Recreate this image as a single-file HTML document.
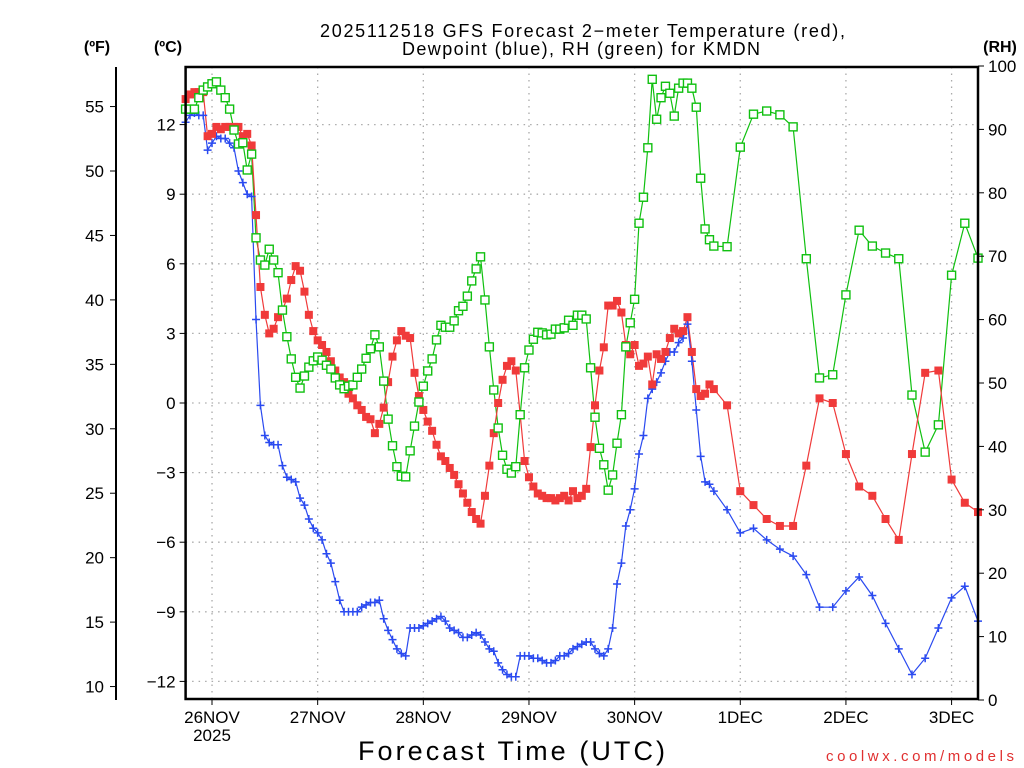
<!DOCTYPE html>
<html><head><meta charset="utf-8"><style>
html,body{margin:0;padding:0;background:#fff;}
svg{display:block;font-family:"Liberation Sans",sans-serif;}
</style></head><body>
<svg id="chart" width="1024" height="768" viewBox="0 0 1024 768" xmlns="http://www.w3.org/2000/svg">
<text x="320" y="37" font-size="18" textLength="525" lengthAdjust="spacing" fill="#000">2025112518 GFS Forecast 2−meter Temperature (red),</text>
<text x="402" y="55" font-size="18" textLength="358" lengthAdjust="spacing" fill="#000">Dewpoint (blue), RH (green) for KMDN</text>
<text x="97" y="52" font-size="16" font-weight="bold" text-anchor="middle">(ºF)</text>
<text x="168" y="52" font-size="16" font-weight="bold" text-anchor="middle">(ºC)</text>
<text x="1000" y="52" font-size="16" font-weight="bold" text-anchor="middle">(RH)</text>
<text x="358" y="760" font-size="27" textLength="307" lengthAdjust="spacing">Forecast Time (UTC)</text>
<text x="826" y="761" font-size="15" textLength="188" lengthAdjust="spacing" fill="#e03030">coolwx.com/models</text>
<g id="grid"></g><g id="series"></g><g id="axes"></g>
</svg>
<script>
const temps=[13.1,13.3,13.4,13.4,13.4,11.5,11.6,11.9,11.8,11.9,11.9,11.9,11.9,11.5,11.6,11.1,8.1,5.0,3.8,3.0,3.2,3.7,4.0,4.5,5.3,5.9,5.7,4.8,3.8,3.1,2.7,2.5,2.2,1.8,1.4,1.1,0.9,0.4,0.2,-0.1,-0.3,-0.6,-0.7,-1.3,-0.9,-0.2,0.9,2.0,2.7,3.1,2.9,2.8,1.3,0.3,-0.3,-0.8,-1.2,-1.8,-2.3,-2.5,-2.8,-3.1,-3.5,-3.9,-4.3,-4.7,-5.0,-5.2,-4.0,-2.7,-1.3,0.0,1.0,1.6,1.8,1.4,-0.5,-2.5,-3.2,-3.6,-3.9,-4.0,-4.1,-4.1,-4.2,-4.1,-4.0,-4.2,-3.8,-4.1,-4.0,-3.7,-1.9,-0.1,1.4,2.4,4.2,4.2,4.4,3.9,2.5,2.1,2.5,1.6,1.7,2.0,0.8,2.1,1.9,2.2,2.8,3.2,3.0,3.1,3.7,2.2,0.6,0.3,0.4,0.8,0.6,
-0.1,-3.8,-4.4,-5.0,-5.3,-5.3,-2.7,0.2,0.0,-2.2,-3.6,-4.0,-5.0,-5.9,-2.2,1.3,1.4,-3.3,-4.3,-4.7];
const dewpoints=[12.1,12.4,12.5,12.4,12.4,10.9,11.2,11.5,11.4,11.4,11.2,11.0,10.0,9.5,9.0,8.9,3.6,-0.1,-1.4,-1.7,-1.8,-1.8,-2.7,-3.2,-3.3,-3.4,-4.1,-4.4,-5.0,-5.4,-5.6,-5.9,-6.5,-6.9,-7.7,-8.5,-9.0,-9.0,-9.0,-9.0,-8.8,-8.7,-8.6,-8.6,-8.5,-9.3,-9.8,-10.2,-10.6,-10.8,-10.9,-9.7,-9.7,-9.7,-9.6,-9.5,-9.4,-9.3,-9.2,-9.4,-9.7,-9.8,-9.9,-10.1,-10.1,-10.0,-9.9,-10.0,-10.3,-10.6,-10.7,-11.2,-11.5,-11.7,-11.8,-11.8,-10.9,-10.9,-10.9,-11.0,-11.0,-11.1,-11.2,-11.2,-11.1,-10.9,-10.9,-10.8,-10.6,-10.5,-10.4,-10.3,-10.3,-10.6,-10.8,-10.9,-10.6,-9.7,-7.8,-6.9,-5.3,-4.6,-3.7,-2.2,-1.4,0.2,0.6,0.9,1.3,1.8,2.2,2.2,2.6,2.8,3.4,1.8,-0.3,-2.3,-3.4,-3.5,-3.8,
-4.6,-5.6,-5.4,-5.9,-6.3,-6.6,-7.4,-8.8,-8.8,-8.1,-7.5,-8.3,-9.5,-10.6,-11.7,-11.0,-9.7,-8.4,-7.9,-9.4];
const rhValues=[93.2,93.2,93.2,95.0,96.2,96.7,97.2,97.5,96.2,95.0,93.2,89.9,87.7,87.9,83.6,86.1,72.9,69.4,68.6,71.1,69.4,67.4,61.5,57.3,53.8,50.9,49.2,51.1,52.5,53.5,54.1,53.6,52.8,52.2,50.8,49.7,49.1,49.5,49.7,50.9,52.2,53.9,55.4,57.6,55.7,50.3,44.3,40.1,36.8,35.3,35.2,39.3,43.2,47.0,49.5,51.9,53.8,56.8,59.1,58.8,58.8,59.8,61.4,62.1,63.7,66.1,68.0,69.9,63.1,55.7,48.9,42.9,38.6,36.4,35.8,36.8,45.0,52.4,55.2,56.9,58.0,57.9,57.6,57.7,58.5,58.5,58.7,59.9,59.1,60.7,60.7,60.1,52.4,44.6,39.7,37.1,33.1,35.5,40.5,45.0,55.7,59.5,63.2,75.2,79.3,87.1,97.9,91.6,95.0,96.8,95.7,92.1,96.5,97.3,97.3,96.5,93.5,82.3,74.3,72.6,71.6,
71.5,87.2,92.4,92.9,92.3,90.4,69.6,50.8,51.3,63.9,74.1,71.6,70.5,69.6,48.1,39.1,43.4,67.0,75.2,69.7];
const dayLabels=["26NOV","27NOV","28NOV","29NOV","30NOV","1DEC","2DEC","3DEC"];
const dayHours=[6,30,54,78,102,126,150,174];
const celsiusTicks=[12,9,6,3,0,-3,-6,-9,-12];
const fahrenheitTicks=[55,50,45,40,35,30,25,20,15,10];
const rhTicks=[100,90,80,70,60,50,40,30,20,10,0];
const forecastHours=[];
for(let h=0;h<=120;h++)forecastHours.push(h);
for(let h=123;h<=180;h+=3)forecastHours.push(h);

const L=185.6,R=978,T=67,B=699;
const xS=h=>L+h*(R-L)/180;
const yC=c=>403-c*23.2;
const yF=f=>yC((f-32)*5/9);
const yRH=r=>700-r*6.34;
const NS="http://www.w3.org/2000/svg";
function mk(tag,parent,attrs){const e=document.createElementNS(NS,tag);for(const k in attrs)e.setAttribute(k,attrs[k]);parent.appendChild(e);return e;}
const grid=document.getElementById('grid'),ser=document.getElementById('series'),ax=document.getElementById('axes');

celsiusTicks.forEach(c=>{
  const g=mk('line',grid,{x1:L,x2:R,y1:yC(c),y2:yC(c),stroke:'#aaa','stroke-width':1.3,'stroke-dasharray':'1.5 5'});
  
  
  const t=mk('line',ax,{x1:L-6,x2:L,y1:yC(c),y2:yC(c),stroke:'#000','stroke-width':1});
  
  
  const lb=mk('text',ax,{x:L-10,y:yC(c)+6,'font-size':17,'text-anchor':'end'});
  lb.textContent=(c<0?'−'+(-c):String(c));
  
  
});
dayHours.forEach((h,i)=>{
  const g=mk('line',grid,{x1:xS(h),x2:xS(h),y1:T,y2:B,stroke:'#aaa','stroke-width':1.3,'stroke-dasharray':'1.5 5'});
  
  
  const t=mk('line',ax,{x1:xS(h),x2:xS(h),y1:B,y2:B+6,stroke:'#000','stroke-width':1});
  
  
  const lb=mk('text',ax,{x:xS(h),y:723,'font-size':17,'text-anchor':'middle'});
  lb.textContent=dayLabels[i];
  
  
});
const yr=mk('text',ax,{x:xS(6),y:741,'font-size':17,'text-anchor':'middle'});
yr.textContent='2025';



const fl=mk('line',ax,{x1:116,x2:116,y1:67,y2:700,stroke:'#000','stroke-width':2});


fahrenheitTicks.forEach(f=>{
  const t=mk('line',ax,{x1:110,x2:116,y1:yF(f),y2:yF(f),stroke:'#000','stroke-width':1});
  
  
  const lb=mk('text',ax,{x:104,y:yF(f)+6,'font-size':17,'text-anchor':'end'});
  lb.textContent=String(f);
  
  
});
rhTicks.forEach(r=>{
  const t=mk('line',ax,{x1:R,x2:R+6,y1:yRH(r),y2:yRH(r),stroke:'#000','stroke-width':1});
  
  
  const lb=mk('text',ax,{x:R+10,y:yRH(r)+6,'font-size':17,'text-anchor':'start'});
  lb.textContent=String(r);
  
  
});
const fr=mk('rect',ax,{x:L,y:T,width:R-L,height:B-T,fill:'none',stroke:'#000','stroke-width':2.5});



function path(vals,yf,color,name){
  const d=vals.map((v,i)=>(i?'L':'M')+xS(forecastHours[i]).toFixed(1)+' '+yf(v).toFixed(1)).join(' ');
  const p=mk('path',ser,{d:d,fill:'none',stroke:color,'stroke-width':1.2});
  
  
}
path(rhValues,yRH,'#10c010','rh-line');
path(temps,yC,'#f03a3a','temperature-line');
path(dewpoints,yC,'#2a4af0','dewpoint-line');
dewpoints.forEach((v,i)=>{
  const x=xS(forecastHours[i]),y=yC(v);
  const m=mk('path',ser,{d:`M${x-4} ${y}H${x+4}M${x} ${y-4}V${y+4}`,stroke:'#2a4af0','stroke-width':1.5,fill:'none'});
  
  
});
temps.forEach((v,i)=>{
  const x=xS(forecastHours[i]),y=yC(v);
  const m=mk('rect',ser,{x:x-4,y:y-4,width:8,height:8,fill:'#f03a3a'});
  
  
});
rhValues.forEach((v,i)=>{
  const x=xS(forecastHours[i]),y=yRH(v);
  const m=mk('rect',ser,{x:x-4,y:y-4,width:8,height:8,fill:'#fff',stroke:'#10c010','stroke-width':1.4});
  
  
});
</script>
</body></html>
